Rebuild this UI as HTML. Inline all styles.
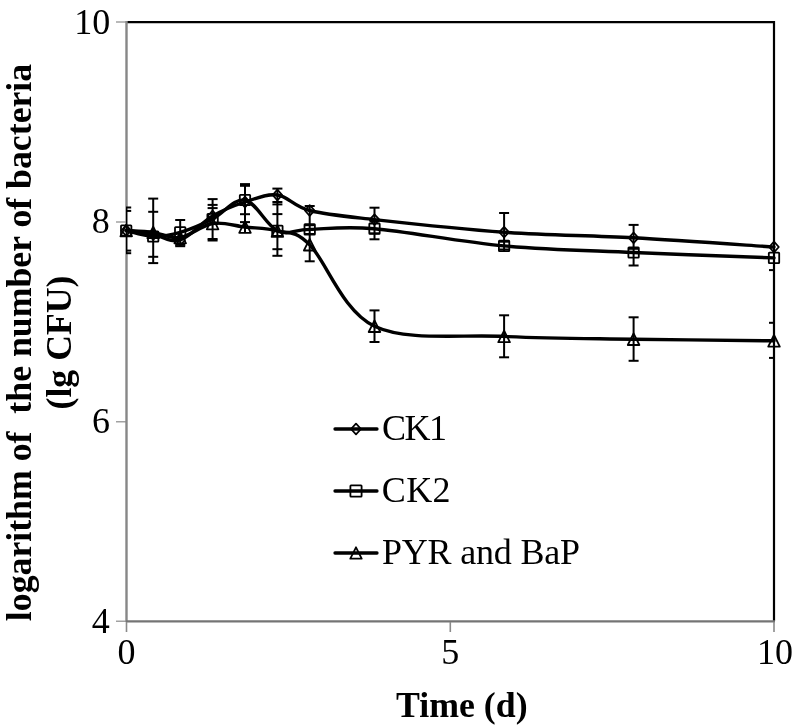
<!DOCTYPE html>
<html><head><meta charset="utf-8"><style>
html,body{margin:0;padding:0;background:#fff;}
svg{display:block;will-change:transform;}
text{font-family:"Liberation Serif",serif;fill:#000;}
</style></head><body>
<svg width="792" height="728" viewBox="0 0 792 728">
<defs><clipPath id="pa"><rect x="126" y="21" width="648" height="601"/></clipPath></defs>
<rect width="792" height="728" fill="#fff"/>
<!-- border top/right -->
<path d="M126,22.2 H774 V621" fill="none" stroke="#000" stroke-width="2.2"/>
<!-- axes -->
<line x1="126.5" y1="21" x2="126.5" y2="622" stroke="#878787" stroke-width="2.4"/>
<line x1="126" y1="621.3" x2="775" y2="621.3" stroke="#747474" stroke-width="2.3"/>
<g stroke="#8a8a8a" stroke-width="1.2">
<line x1="116" y1="22" x2="126" y2="22"/>
<line x1="116" y1="222" x2="126" y2="222"/>
<line x1="116" y1="421.8" x2="126" y2="421.8"/>
<line x1="116" y1="621.2" x2="126" y2="621.2"/>
<line x1="126.5" y1="622" x2="126.5" y2="632" stroke-width="1.6"/>
<line x1="450.3" y1="622" x2="450.3" y2="632" stroke-width="1.6"/>
<line x1="774" y1="622" x2="774" y2="632" stroke-width="1.6"/>
</g>
<g font-size="36" text-anchor="end">
<text x="110.3" y="33.5">10</text>
<text x="109.8" y="233">8</text>
<text x="110" y="433">6</text>
<text x="109.8" y="632.5">4</text>
</g>
<g font-size="36" text-anchor="middle">
<text x="126.5" y="664">0</text>
<text x="450.3" y="664">5</text>
<text x="775" y="664">10</text>
</g>
<text x="396" y="717.3" font-size="35.8" font-weight="bold">Time (d)</text>
<g transform="translate(30.5,342.5) rotate(-90)" font-weight="bold" font-size="35.75" text-anchor="middle">
<text x="0" y="0" xml:space="preserve">logarithm of  the number of bacteria</text>
<text x="0" y="40">(lg CFU)</text>
</g>
<!-- legend -->
<g stroke="#000" fill="none">
<g stroke-linecap="round" stroke-width="3.3">
<line x1="335" y1="429" x2="377" y2="429"/>
<line x1="335" y1="491" x2="377" y2="491"/>
<line x1="335" y1="553" x2="377" y2="553"/>
</g>
<g stroke-width="1.8" stroke-linejoin="round">
<path d="M356.00,423.60 L361.00,429.00 L356.00,434.40 L351.00,429.00 Z"/>
<rect x="350.40" y="485.40" width="11.20" height="11.20" rx="0.6"/>
<path d="M356.00,547.30 L361.70,558.70 L350.30,558.70 Z"/>
</g>
</g>
<g font-size="36">
<text x="382" y="440" textLength="65" lengthAdjust="spacing">CK1</text>
<text x="381.8" y="502" textLength="68.7" lengthAdjust="spacing">CK2</text>
<text x="382" y="563.5" textLength="198" lengthAdjust="spacing">PYR and BaP</text>
</g>
<g clip-path="url(#pa)" stroke="#000" stroke-width="2" fill="none"><line x1="126.20" y1="207.50" x2="126.20" y2="253.20"/><line x1="121.20" y1="207.50" x2="131.20" y2="207.50"/><line x1="121.20" y1="210.90" x2="131.20" y2="210.90"/><line x1="121.20" y1="250.60" x2="131.20" y2="250.60"/><line x1="121.20" y1="253.20" x2="131.20" y2="253.20"/><line x1="153.20" y1="198.60" x2="153.20" y2="263.10"/><line x1="148.20" y1="198.60" x2="158.20" y2="198.60"/><line x1="148.20" y1="211.80" x2="158.20" y2="211.80"/><line x1="148.20" y1="256.80" x2="158.20" y2="256.80"/><line x1="148.20" y1="263.10" x2="158.20" y2="263.10"/><line x1="180.20" y1="220.00" x2="180.20" y2="246.20"/><line x1="175.20" y1="220.00" x2="185.20" y2="220.00"/><line x1="175.20" y1="244.80" x2="185.20" y2="244.80"/><line x1="175.20" y1="246.20" x2="185.20" y2="246.20"/><line x1="212.60" y1="199.10" x2="212.60" y2="240.50"/><line x1="207.60" y1="199.10" x2="217.60" y2="199.10"/><line x1="207.60" y1="204.90" x2="217.60" y2="204.90"/><line x1="207.60" y1="208.10" x2="217.60" y2="208.10"/><line x1="207.60" y1="239.00" x2="217.60" y2="239.00"/><line x1="207.60" y1="240.50" x2="217.60" y2="240.50"/><line x1="245.00" y1="184.10" x2="245.00" y2="232.00"/><line x1="240.00" y1="184.10" x2="250.00" y2="184.10"/><line x1="240.00" y1="185.80" x2="250.00" y2="185.80"/><line x1="240.00" y1="214.20" x2="250.00" y2="214.20"/><line x1="240.00" y1="222.10" x2="250.00" y2="222.10"/><line x1="277.40" y1="188.60" x2="277.40" y2="255.80"/><line x1="272.40" y1="188.60" x2="282.40" y2="188.60"/><line x1="272.40" y1="202.00" x2="282.40" y2="202.00"/><line x1="272.40" y1="204.40" x2="282.40" y2="204.40"/><line x1="272.40" y1="214.10" x2="282.40" y2="214.10"/><line x1="272.40" y1="249.20" x2="282.40" y2="249.20"/><line x1="272.40" y1="255.80" x2="282.40" y2="255.80"/><line x1="309.70" y1="206.00" x2="309.70" y2="261.30"/><line x1="304.70" y1="206.00" x2="314.70" y2="206.00"/><line x1="304.70" y1="225.20" x2="314.70" y2="225.20"/><line x1="304.70" y1="234.00" x2="314.70" y2="234.00"/><line x1="304.70" y1="261.30" x2="314.70" y2="261.30"/><line x1="374.50" y1="207.70" x2="374.50" y2="239.30"/><line x1="374.50" y1="310.40" x2="374.50" y2="342.00"/><line x1="369.50" y1="207.70" x2="379.50" y2="207.70"/><line x1="369.50" y1="221.30" x2="379.50" y2="221.30"/><line x1="369.50" y1="233.30" x2="379.50" y2="233.30"/><line x1="369.50" y1="239.30" x2="379.50" y2="239.30"/><line x1="369.50" y1="310.40" x2="379.50" y2="310.40"/><line x1="369.50" y1="342.00" x2="379.50" y2="342.00"/><line x1="504.10" y1="213.00" x2="504.10" y2="251.00"/><line x1="504.10" y1="315.30" x2="504.10" y2="357.30"/><line x1="499.10" y1="213.00" x2="509.10" y2="213.00"/><line x1="499.10" y1="241.70" x2="509.10" y2="241.70"/><line x1="499.10" y1="249.50" x2="509.10" y2="249.50"/><line x1="499.10" y1="315.30" x2="509.10" y2="315.30"/><line x1="499.10" y1="357.30" x2="509.10" y2="357.30"/><line x1="633.60" y1="224.90" x2="633.60" y2="265.50"/><line x1="633.60" y1="317.30" x2="633.60" y2="360.80"/><line x1="628.60" y1="224.90" x2="638.60" y2="224.90"/><line x1="628.60" y1="248.80" x2="638.60" y2="248.80"/><line x1="628.60" y1="265.50" x2="638.60" y2="265.50"/><line x1="628.60" y1="317.30" x2="638.60" y2="317.30"/><line x1="628.60" y1="360.80" x2="638.60" y2="360.80"/><line x1="774.00" y1="240.00" x2="774.00" y2="270.10"/><line x1="774.00" y1="322.80" x2="774.00" y2="357.90"/><line x1="769.00" y1="270.10" x2="779.00" y2="270.10"/><line x1="769.00" y1="322.80" x2="779.00" y2="322.80"/><line x1="769.00" y1="357.90" x2="779.00" y2="357.90"/></g>
<path d="M126.20,230.50 C130.70,231.17 144.20,232.92 153.20,234.50 C162.20,236.08 170.30,243.08 180.20,240.00 C190.10,236.92 201.80,222.33 212.60,216.00 C223.40,209.67 234.20,205.50 245.00,202.00 C255.80,198.50 266.62,193.58 277.40,195.00 C288.18,196.42 293.52,206.40 309.70,210.50 C325.88,214.60 342.10,215.98 374.50,219.60 C406.90,223.22 460.92,229.17 504.10,232.20 C547.28,235.23 588.62,235.33 633.60,237.80 C678.58,240.27 750.60,245.47 774.00,247.00" fill="none" stroke="#000" stroke-width="3.4" stroke-linejoin="round" stroke-linecap="round"/>
<path d="M126.20,230.50 C130.70,231.50 144.20,236.18 153.20,236.50 C162.20,236.82 170.30,235.32 180.20,232.40 C190.10,229.48 201.80,224.40 212.60,219.00 C223.40,213.60 234.20,198.03 245.00,200.00 C255.80,201.97 266.62,225.90 277.40,230.80 C288.18,235.70 293.52,229.75 309.70,229.40 C325.88,229.05 342.10,225.95 374.50,228.70 C406.90,231.45 460.92,241.93 504.10,245.90 C547.28,249.87 588.62,250.50 633.60,252.50 C678.58,254.50 750.60,257.00 774.00,257.90" fill="none" stroke="#000" stroke-width="3.4" stroke-linejoin="round" stroke-linecap="round"/>
<path d="M126.20,230.50 C130.70,230.82 144.20,231.23 153.20,232.40 C162.20,233.57 170.30,238.98 180.20,237.50 C190.10,236.02 201.80,225.25 212.60,223.50 C223.40,221.75 234.20,225.75 245.00,227.00 C255.80,228.25 266.62,228.05 277.40,231.00 C288.18,233.95 293.52,228.83 309.70,244.70 C325.88,260.57 342.10,310.92 374.50,326.20 C406.90,341.48 460.92,334.23 504.10,336.40 C547.28,338.57 588.62,338.47 633.60,339.20 C678.58,339.93 750.60,340.53 774.00,340.80" fill="none" stroke="#000" stroke-width="3.4" stroke-linejoin="round" stroke-linecap="round"/>
<g fill="none" stroke="#000" stroke-width="1.8" stroke-linejoin="round"><path d="M126.20,225.20 L131.00,230.50 L126.20,235.80 L121.40,230.50 Z"/><path d="M153.20,229.20 L158.00,234.50 L153.20,239.80 L148.40,234.50 Z"/><path d="M180.20,234.70 L185.00,240.00 L180.20,245.30 L175.40,240.00 Z"/><path d="M212.60,210.70 L217.40,216.00 L212.60,221.30 L207.80,216.00 Z"/><path d="M245.00,196.70 L249.80,202.00 L245.00,207.30 L240.20,202.00 Z"/><path d="M277.40,189.70 L282.20,195.00 L277.40,200.30 L272.60,195.00 Z"/><path d="M309.70,205.20 L314.50,210.50 L309.70,215.80 L304.90,210.50 Z"/><path d="M374.50,214.30 L379.30,219.60 L374.50,224.90 L369.70,219.60 Z"/><path d="M504.10,226.90 L508.90,232.20 L504.10,237.50 L499.30,232.20 Z"/><path d="M633.60,232.50 L638.40,237.80 L633.60,243.10 L628.80,237.80 Z"/><path d="M774.00,241.70 L778.80,247.00 L774.00,252.30 L769.20,247.00 Z"/><rect x="121.00" y="225.30" width="10.40" height="10.40" rx="0.6"/><rect x="148.00" y="231.30" width="10.40" height="10.40" rx="0.6"/><rect x="175.00" y="227.20" width="10.40" height="10.40" rx="0.6"/><rect x="207.40" y="213.80" width="10.40" height="10.40" rx="0.6"/><rect x="239.80" y="194.80" width="10.40" height="10.40" rx="0.6"/><rect x="272.20" y="225.60" width="10.40" height="10.40" rx="0.6"/><rect x="304.50" y="224.20" width="10.40" height="10.40" rx="0.6"/><rect x="369.30" y="223.50" width="10.40" height="10.40" rx="0.6"/><rect x="498.90" y="240.70" width="10.40" height="10.40" rx="0.6"/><rect x="628.40" y="247.30" width="10.40" height="10.40" rx="0.6"/><rect x="768.80" y="252.70" width="10.40" height="10.40" rx="0.6"/><path d="M126.20,224.70 L132.00,236.30 L120.40,236.30 Z"/><path d="M153.20,226.60 L159.00,238.20 L147.40,238.20 Z"/><path d="M180.20,231.70 L186.00,243.30 L174.40,243.30 Z"/><path d="M212.60,217.70 L218.40,229.30 L206.80,229.30 Z"/><path d="M245.00,221.20 L250.80,232.80 L239.20,232.80 Z"/><path d="M277.40,225.20 L283.20,236.80 L271.60,236.80 Z"/><path d="M309.70,238.90 L315.50,250.50 L303.90,250.50 Z"/><path d="M374.50,320.40 L380.30,332.00 L368.70,332.00 Z"/><path d="M504.10,330.60 L509.90,342.20 L498.30,342.20 Z"/><path d="M633.60,333.40 L639.40,345.00 L627.80,345.00 Z"/><path d="M774.00,335.00 L779.80,346.60 L768.20,346.60 Z"/></g>
</svg>
</body></html>
